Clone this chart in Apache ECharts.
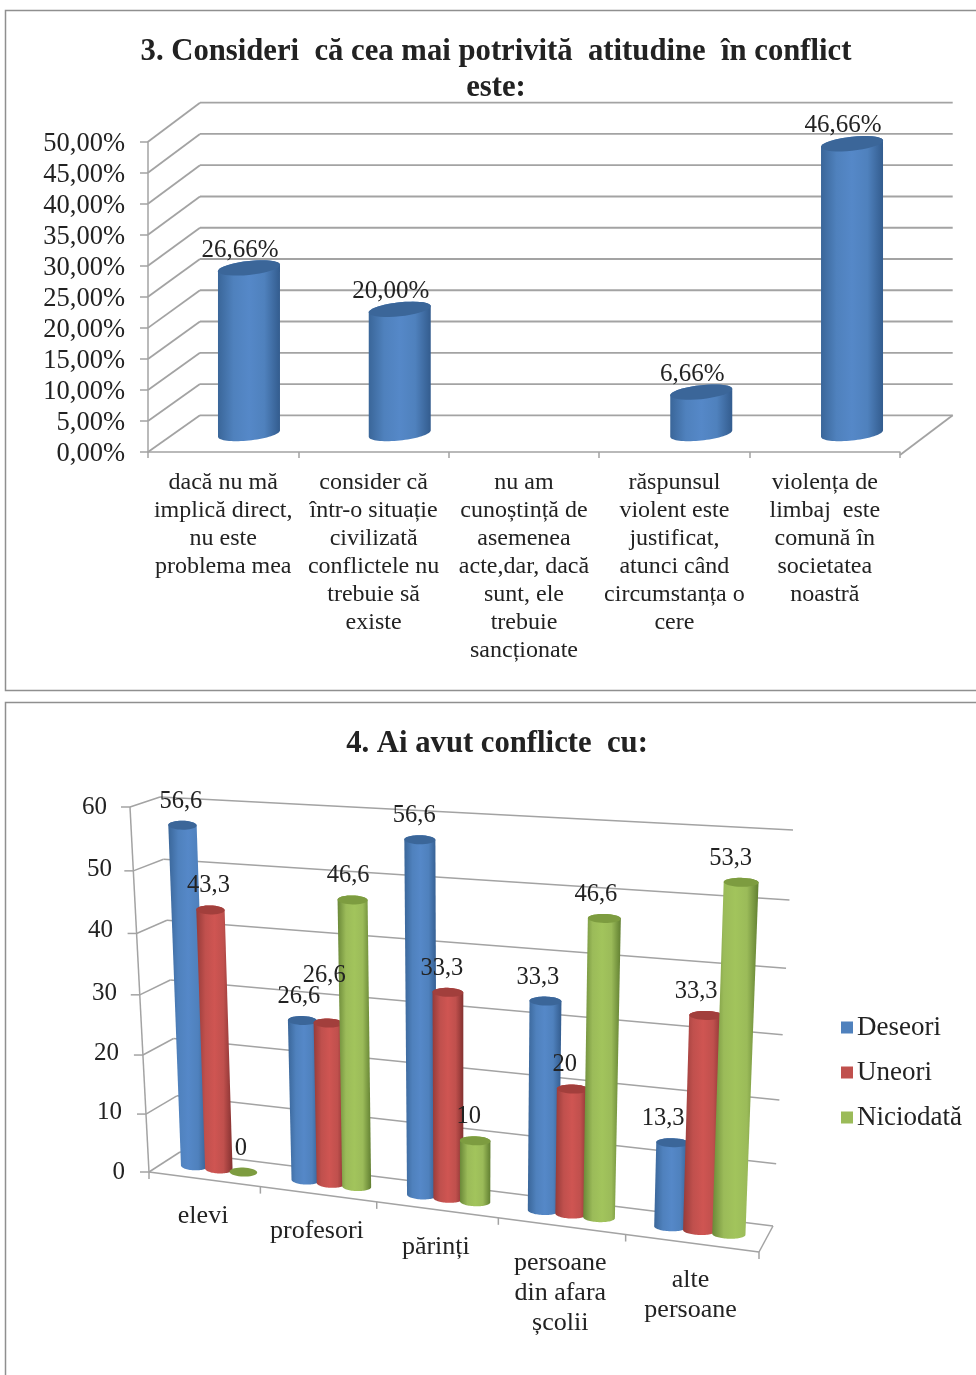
<!DOCTYPE html>
<html><head><meta charset="utf-8">
<style>html,body{margin:0;padding:0;background:#fff}#c{width:976px;height:1375px}</style>
<script src="https://cdn.jsdelivr.net/npm/echarts@6/dist/echarts.min.js"></script>
</head><body><div id="c"></div>
<script>
// ---------- data ----------
const title1 = '3. Consideri  că cea mai potrivită  atitudine  în conflict\neste:';
const categories1 = [
  'dacă nu mă\nimplică direct,\nnu este\nproblema mea',
  'consider că\nîntr-o situație\ncivilizată\nconflictele nu\ntrebuie să\nexiste',
  'nu am\ncunoștință de\nasemenea\nacte,dar, dacă\nsunt, ele\ntrebuie\nsancționate',
  'răspunsul\nviolent este\njustificat,\natunci când\ncircumstanța o\ncere',
  'violența de\nlimbaj  este\ncomună în\nsocietatea\nnoastră'
];
const values1 = [26.66, 20.00, null, 6.66, 46.66];
const ticks1 = [0,5,10,15,20,25,30,35,40,45,50];

const title2 = '4. Ai avut conflicte  cu:';
const categories2 = ['elevi','profesori','părinți','persoane\ndin afara\nșcolii','alte\npersoane'];
const deseori = [56.6, 26.6, 56.6, 33.3, 13.3];
const uneori = [43.3, 26.6, 33.3, 20, 33.3];
const niciodata = [0, 46.6, 10, 46.6, 53.3];
const ticks2 = [0,10,20,30,40,50,60];

// ---------- layout ----------
const SERIF = 'Liberation Serif';
const TXT = '#222';
const LINE = '#a3a3a3';
const G1 = {left:148, top:141.7, width:752, height:310.3};
const G2 = {left:149, top:807, width:610, height:365};
const quads = {
  // [u0v0, u1v0, u1v1, u0v1]
  f1: [[148,452],[900,452],[900,141.7],[148,141.7]],
  b1: [[200,415.3],[952.7,415.3],[952.7,102.7],[200,102.7]],
  m1: [[173.6,433.5],[927.4,433.5],[927.4,123],[173.6,123]],
  f2: [[149,1172],[759,1252],[779,846],[130,807]],
  b2: [[180,1152],[773,1226],[793,830],[160,797]],
  m2: [[164.5,1162],[766,1239],[782,838],[150.3,802]]
};
function homography(q){
  const [x0,y0]=q[0],[x1,y1]=q[1],[x2,y2]=q[2],[x3,y3]=q[3];
  const dx1=x1-x2,dx2=x3-x2,sx=x0-x1+x2-x3,dy1=y1-y2,dy2=y3-y2,sy=y0-y1+y2-y3;
  const den=dx1*dy2-dx2*dy1, g=(sx*dy2-dx2*sy)/den, h=(dx1*sy-sx*dy1)/den;
  const a=x1-x0+g*x1,b=x3-x0+h*x3,d=y1-y0+g*y1,e=y3-y0+h*y3;
  return (u,v)=>{const w=g*u+h*v+1;return [(a*u+b*v+x0)/w,(d*u+e*v+y0)/w];};
}
const W = {}; Object.keys(quads).forEach(k=>W[k]=homography(quads[k]));

const palette = {
  blue:{name:'Deseori',flat:'#4f81bd',edgeL:'#3a6699',mid:'#5588c8',edgeR:'#335c8e',cap:'#3b6699'},
  red:{name:'Uneori',flat:'#c0504d',edgeL:'#963b39',mid:'#cf5552',edgeR:'#843130',cap:'#a23f3c'},
  green:{name:'Niciodată',flat:'#9bbb59',edgeL:'#6a8838',mid:'#a2c45c',edgeR:'#617f31',cap:'#7d9c40'}
};
function uv(cs,p){return [(p[0]-cs.x)/cs.width,(cs.y+cs.height-p[1])/cs.height];}
function line(a,b,c,w){return {type:'line',shape:{x1:a[0],y1:a[1],x2:b[0],y2:b[1]},style:{stroke:c||LINE,lineWidth:w||1.5},silent:true};}
function grad(c){return new echarts.graphic.LinearGradient(0,0,1,0,[
  {offset:0,color:c.edgeL},{offset:.25,color:c.flat},{offset:.5,color:c.mid},{offset:.75,color:c.flat},{offset:1,color:c.edgeR}]);}
function ell(C,A,ry,from,to){
  const pts=[];const n=36;
  for(let i=0;i<=n;i++){const t=from+(to-from)*i/n;pts.push([C[0]+Math.cos(t)*A[0],C[1]+Math.cos(t)*A[1]+Math.sin(t)*ry]);}
  return pts;
}
function cylinder(bot,top,Ab,At,ry,c){
  const body=ell(bot,Ab,ry,0,Math.PI).concat(ell(top,At,ry,Math.PI,2*Math.PI));
  const flat=Math.abs(bot[1]-top[1])<1;
  const kids=[];
  if(!flat) kids.push({type:'polygon',shape:{points:body},style:{fill:grad(c)},silent:true});
  kids.push({type:'polygon',shape:{points:ell(top,At,ry,0,2*Math.PI)},style:{fill:c.cap},silent:true});
  return kids;
}
function text(x,y,s,size,extra){
  return {type:'text',x:x,y:y,silent:true,z2:50,style:Object.assign({text:s,fill:TXT,fontFamily:SERIF,fontSize:size,textAlign:'center',textVerticalAlign:'middle'},extra||{})};
}

// walls, one item per tick
function wallRender(front,back,floorDrop,xTicks,lw){
  return function(params,api){
    const cs=params.coordSys;
    const val=api.value(0);
    const pt=api.coord([0,val]);
    const v=uv(cs,[cs.x,pt[1]])[1];
    const kids=[ line(W[front](0,v),W[back](0,v),LINE,lw), line(W[back](0,v),W[back](1,v),LINE,lw) ];
    if(val===0){
      const fr=W[front](1,0);
      kids.push(line([fr[0],fr[1]+floorDrop],W[back](1,0),LINE,lw));
      if(xTicks){
        const fl=W[front](0,0);
        kids.push(line(fl,fr));
        kids.push(line(fl,W[front](0,1)));
        for(let i=0;i<=5;i++){const p=W[front](i/5,0);kids.push(line(p,[p[0],p[1]+7]));}
      }
    }
    if(xTicks){const p=W[front](0,v);kids.push(line([p[0]-9,p[1]],p));}
    return {type:'group',children:kids};
  };
}
// chart 1 cylinders
function renderCyl1(params,api){
  const val=api.value(1); if(val==null||isNaN(val)) return null;
  const cs=params.coordSys;
  const zero=api.coord([api.value(0),0]), p=api.coord([api.value(0),val]);
  const a=uv(cs,zero), b=uv(cs,p);
  const bot=W.m1(a[0],a[1]), top=W.m1(b[0],b[1]);
  const c=palette.blue;
  const kids=cylinder(bot,top,[31,-3.2],[31,-3.2],7,c);
  kids.push(text(top[0]-9,top[1]-18,val.toFixed(2).replace('.',',')+'%',25));
  return {type:'group',children:kids};
}
// chart 2 cylinders
const labelLift = {'1_1':23};
function renderCyl2(seriesIdx,c){
  return function(params,api){
    const val=api.value(1), cat=api.value(0);
    const cs=params.coordSys;
    const catW=api.size([1,0])[0];
    const base=api.coord([cat,0]), p=api.coord([cat,val]);
    const shift=(seriesIdx-1)*0.222*catW, half=0.125*catW;
    const a=uv(cs,[base[0]+shift,base[1]]), b=uv(cs,[p[0]+shift,p[1]]);
    const du=half/cs.width;
    const bot=W.m2(a[0],a[1]), top=W.m2(b[0],b[1]);
    const bl=W.m2(a[0]-du,a[1]), br=W.m2(a[0]+du,a[1]);
    const tl=W.m2(b[0]-du,b[1]), tr=W.m2(b[0]+du,b[1]);
    const Ab=[(br[0]-bl[0])/2,(br[1]-bl[1])/2*0.25], At=[(tr[0]-tl[0])/2,(tr[1]-tl[1])/2*0.25];
    return {type:'group',children:cylinder(bot,top,Ab,At,4.5,c)};
  };
}
function renderLabels2(seriesIdx){
  return function(params,api){
    const val=api.value(1), cat=api.value(0);
    const cs=params.coordSys, catW=api.size([1,0])[0];
    const p=api.coord([cat,val]);
    const b=uv(cs,[p[0]+(seriesIdx-1)*0.222*catW,p[1]]);
    const top=W.m2(b[0],b[1]);
    const lift=labelLift[seriesIdx+'_'+cat]||0;
    return text(top[0]-1-10*b[0],top[1]-24-lift,String(val).replace('.',','),24.5);
  };
}
function renderCatLabels(params,api){
  const cs=params.coordSys, i=api.value(0);
  const p=api.coord([i,0]);
  const f=W.f2(uv(cs,p)[0],0);
  return text(f[0]-1,f[1]+22,categories2[i],26,{textVerticalAlign:'top',lineHeight:30});
}
const xy=(arr)=>arr.map((v,i)=>[i,v]);
const barSeries=[['blue',deseori],['red',uneori],['green',niciodata]];
const yRich=(top,right)=>({padding:[top,right,0,0],fontFamily:SERIF,fontSize:25,color:TXT});

const option={
  animation:false,
  backgroundColor:'#fff',
  graphic:[
    {type:'rect',shape:{x:5.5,y:10.5,width:990,height:680},style:{fill:'none',stroke:'#8f8f8f',lineWidth:1.5},silent:true,z:-1},
    {type:'rect',shape:{x:5.5,y:702.5,width:990,height:700},style:{fill:'none',stroke:'#8f8f8f',lineWidth:1.5},silent:true,z:-1}
  ],
  title:[
    {text:title1,left:496,top:34,padding:0,textAlign:'center',textStyle:{fontFamily:SERIF,fontWeight:'bold',fontSize:30.7,lineHeight:36,color:TXT}},
    {text:title2,left:497,top:726,padding:0,textAlign:'center',textStyle:{fontFamily:SERIF,fontWeight:'bold',fontSize:30.7,lineHeight:36,color:TXT}}
  ],
  legend:{orient:'vertical',left:836,top:1009,icon:'rect',itemWidth:12,itemHeight:12,itemGap:18,selectedMode:false,
    data:[palette.blue.name,palette.red.name,palette.green.name],
    textStyle:{fontFamily:SERIF,fontSize:27,color:TXT,padding:[0,0,0,-1]}},
  grid:[
    Object.assign({containLabel:false},G1),
    Object.assign({containLabel:false},G2)
  ],
  xAxis:[
    {gridIndex:0,type:'category',data:categories1,offset:3,
      axisLine:{lineStyle:{color:LINE,width:1.5}},axisTick:{show:true,alignWithLabel:false,length:6,lineStyle:{color:LINE,width:1.5}},
      axisLabel:{interval:0,margin:14,fontFamily:SERIF,fontSize:24,lineHeight:28,color:TXT,hideOverlap:false,verticalAlign:'top'}},
    {gridIndex:1,type:'category',data:categories2,axisLine:{show:false},axisTick:{show:false},axisLabel:{show:false}}
  ],
  yAxis:[
    {gridIndex:0,type:'value',min:0,max:50,interval:5,
      axisLine:{show:true,lineStyle:{color:LINE,width:1.5}},axisTick:{show:true,length:8,lineStyle:{color:LINE,width:1.5}},splitLine:{show:false},
      axisLabel:{margin:23,fontFamily:SERIF,fontSize:26.5,color:TXT,
        formatter:v=>'{a|'+v.toFixed(2).replace('.',',')+'%}',
        rich:{a:{padding:[5,0,0,0],fontFamily:SERIF,fontSize:26.5,color:TXT}}}},
    {gridIndex:1,type:'value',min:0,max:60,interval:10,
      axisLine:{show:false},axisTick:{show:false},splitLine:{show:false},
      axisLabel:{margin:0,color:TXT,fontFamily:SERIF,fontSize:25,
        formatter:v=>'{a'+v+'|'+v+'}',
        rich:{a0:yRich(0,24),a10:yRich(2,27),a20:yRich(6,30),a30:yRich(8,32),a40:yRich(4,36),a50:yRich(4,37),a60:yRich(0,42)}}}
  ],
  series:[
    {type:'custom',xAxisIndex:0,yAxisIndex:0,z:1,clip:false,silent:true,encode:{x:1,y:0},
      data:ticks1.map(v=>[v,0]),renderItem:wallRender('f1','b1',3,false,1.8)},
    {type:'custom',xAxisIndex:0,yAxisIndex:0,z:3,clip:false,silent:true,encode:{x:0,y:1},
      data:xy(values1),renderItem:renderCyl1},
    {type:'custom',xAxisIndex:1,yAxisIndex:1,z:1,clip:false,silent:true,encode:{x:1,y:0},
      data:ticks2.map(v=>[v,0]),renderItem:wallRender('f2','b2',0,true,1.5)},
    ...barSeries.map((b,i)=>({type:'custom',name:palette[b[0]].name,xAxisIndex:1,yAxisIndex:1,z:3+i,clip:false,silent:true,
      itemStyle:{color:palette[b[0]].flat},encode:{x:0,y:1},data:xy(b[1]),renderItem:renderCyl2(i,palette[b[0]])})),
    ...barSeries.map((b,i)=>({type:'custom',xAxisIndex:1,yAxisIndex:1,z:8,clip:false,silent:true,
      encode:{x:0,y:1},data:xy(b[1]),renderItem:renderLabels2(i)})),
    {type:'custom',xAxisIndex:1,yAxisIndex:1,z:8,clip:false,silent:true,encode:{x:0,y:1},
      data:categories2.map((c,i)=>[i,0]),renderItem:renderCatLabels}
  ]
};
echarts.init(document.getElementById('c'),null,{renderer:'canvas'}).setOption(option);
</script>
</body></html>
